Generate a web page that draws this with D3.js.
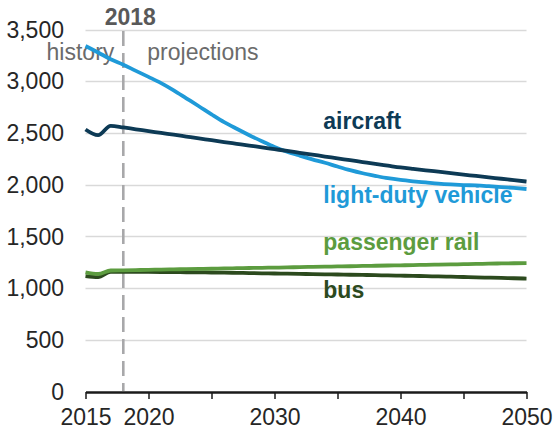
<!DOCTYPE html>
<html>
<head>
<meta charset="utf-8">
<script src="https://cdn.jsdelivr.net/npm/d3@7"></script>
<style>
  html, body { margin: 0; padding: 0; background: #fff; }
  svg { display: block; font-family: "Liberation Sans", Arial, sans-serif; }
</style>
</head>
<body>
<svg id="chart" width="553" height="432"></svg>
<script>
const years = [2015,2016,2017,2018,2019,2020,2021,2022,2023,2024,2025,2026,2027,2028,2029,2030,2031,2032,2033,2034,2035,2036,2037,2038,2039,2040,2041,2042,2043,2044,2045,2046,2047,2048,2049,2050];
const lightDutyVehicle = [3340,3278,3212,3160,3100,3042,2982,2912,2835,2758,2680,2605,2540,2478,2420,2365,2318,2280,2245,2212,2175,2140,2110,2085,2062,2045,2032,2021,2010,2002,1996,1992,1985,1977,1968,1958];
const aircraft = [2533,2478,2569,2553,2535,2518,2500,2483,2465,2447,2430,2412,2395,2378,2360,2343,2326,2308,2290,2272,2254,2236,2218,2200,2183,2166,2152,2139,2125,2111,2097,2084,2070,2057,2043,2030];
const passengerRail = [1152,1136,1170,1172,1174,1176,1179,1181,1183,1185,1187,1190,1192,1194,1196,1198,1200,1203,1205,1207,1209,1211,1214,1216,1218,1220,1222,1225,1227,1229,1231,1233,1236,1238,1240,1242];
const bus = [1115,1105,1158,1158,1157,1156,1155,1154,1153,1152,1150,1149,1147,1145,1143,1141,1139,1137,1135,1133,1131,1129,1127,1125,1122,1120,1118,1115,1113,1110,1107,1104,1101,1098,1095,1092];
const yTicks = [0,500,1000,1500,2000,2500,3000,3500];
const xTicks = [2015,2020,2025,2030,2035,2040,2045,2050];
const xTickLabels = ["2015","2020","","2030","","2040","","2050"];
const seriesNames = ["bus","passenger rail","light-duty vehicle","aircraft"];
const seriesColors = ["#2c4a1e","#5c9c3f","#1f9ad8","#0d3a55"];
const projectionYear = 2018;

const series = [bus, passengerRail, lightDutyVehicle, aircraft];

const svg = d3.select("#chart");
const x = d3.scaleLinear().domain([2015, 2050]).range([85.5, 526.5]);
const y = d3.scaleLinear().domain([0, 3500]).range([391.5, 29.5]);
const FONT = 23;

// gridlines
svg.append("g").selectAll("line")
  .data(yTicks.filter(d => d > 0))
  .join("line")
  .attr("x1", x(2015)).attr("x2", x(2050))
  .attr("y1", d => Math.round(y(d)) + 0.5).attr("y2", d => Math.round(y(d)) + 0.5)
  .attr("stroke", "#d9d9d9").attr("stroke-width", 1.3);

// y labels
svg.append("g").selectAll("text")
  .data(yTicks)
  .join("text")
  .attr("x", 64).attr("y", d => y(d))
  .attr("dy", "0.36em")
  .attr("text-anchor", "end")
  .attr("font-size", FONT)
  .attr("fill", "#262626")
  .text(d => d3.format(",")(d));

// projection divider
svg.append("line")
  .attr("x1", x(projectionYear)).attr("x2", x(projectionYear))
  .attr("y1", 31).attr("y2", 391)
  .attr("stroke", "#a8a8aa").attr("stroke-width", 2.6)
  .attr("stroke-dasharray", "15,7");

svg.append("text")
  .attr("x", x(projectionYear) + 7).attr("y", 25)
  .attr("text-anchor", "middle")
  .attr("font-size", FONT).attr("font-weight", "bold")
  .attr("fill", "#595959")
  .text("2018");

svg.append("text")
  .attr("x", x(projectionYear) - 9).attr("y", 60)
  .attr("text-anchor", "end")
  .attr("font-size", FONT).attr("fill", "#6b6b6b")
  .text("history");

svg.append("text")
  .attr("x", x(projectionYear) + 24).attr("y", 60)
  .attr("text-anchor", "start")
  .attr("font-size", FONT).attr("fill", "#6b6b6b")
  .text("projections");

// x axis
const xAxis = d3.axisBottom(x)
  .tickValues(xTicks)
  .tickFormat((d, i) => xTickLabels[i])
  .tickSize(7)
  .tickSizeOuter(0)
  .tickPadding(6);
const gx = svg.append("g").attr("transform", "translate(0,392)").call(xAxis);
gx.select(".domain").attr("stroke", "#1a1a1a").attr("stroke-width", 2.4);
gx.selectAll(".tick line").attr("stroke", "#1a1a1a").attr("stroke-width", 1.5);
gx.selectAll(".tick text")
  .attr("font-size", FONT)
  .attr("font-family", "'Liberation Sans', Arial, sans-serif")
  .attr("fill", "#262626")
  .attr("y", 0).attr("dy", 0)
  .attr("transform", "translate(0,33)");

// lines
const line = d3.line()
  .x((d, i) => x(years[i]))
  .y(d => y(d))
  .curve(d3.curveMonotoneX);

svg.append("g").selectAll("path")
  .data(series)
  .join("path")
  .attr("d", d => line(d))
  .attr("fill", "none")
  .attr("stroke", (d, i) => seriesColors[i])
  .attr("stroke-width", 3.8)
  .attr("stroke-linejoin", "round");

// series labels
const labelBase = [298, 250, 203, 129];
svg.append("g").selectAll("text")
  .data(seriesNames)
  .join("text")
  .attr("x", x(2033) + 11)
  .attr("y", (d, i) => labelBase[i])
  .attr("font-size", FONT).attr("font-weight", "bold")
  .attr("fill", (d, i) => seriesColors[i])
  .text(d => d);
</script>
</body>
</html>
